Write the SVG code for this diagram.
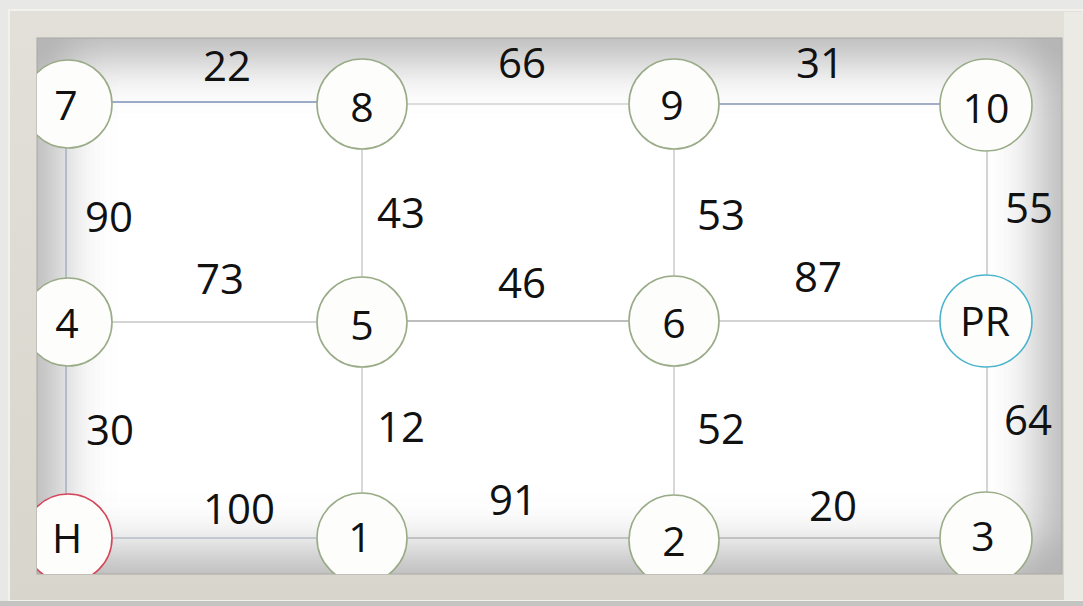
<svg xmlns="http://www.w3.org/2000/svg" width="1083" height="606" viewBox="0 0 1083 606">
<style>
.lbl{font-family:"Open Sans","Liberation Sans",sans-serif;font-size:42px;fill:#111}
.nt{font-family:"Open Sans","Liberation Sans",sans-serif;font-size:41px;fill:#111;text-anchor:middle;dominant-baseline:central}
.nd{fill:#fdfefb;stroke:#9aab88;stroke-width:1.6}
.e{stroke-width:1.4;fill:none}
</style>
<defs>
<clipPath id="inner"><rect x="37" y="38" width="1025" height="536"/></clipPath>
<filter id="blur" x="-10%" y="-10%" width="120%" height="120%"><feGaussianBlur stdDeviation="28"/></filter>
<linearGradient id="frame" x1="0" y1="0" x2="0" y2="1"><stop offset="0" stop-color="#e2e0d9"/><stop offset="1" stop-color="#d8d5cc"/></linearGradient>
</defs>
<rect x="0" y="0" width="1083" height="606" fill="#e8e8e6"/>
<rect x="9" y="10" width="1074" height="591" fill="url(#frame)" stroke="#f2f1ec" stroke-width="2"/>
<rect x="1064" y="12" width="19" height="588" fill="#ebeae4"/>
<rect x="0" y="601" width="1083" height="5" fill="#c4c4c2"/>
<g id="background">
<rect x="37" y="38" width="1025" height="536" fill="#ffffff"/>
<g clip-path="url(#inner)">
<rect x="27" y="28" width="1045" height="556" fill="none" stroke="#7a7a7a" stroke-opacity="0.75" stroke-width="50" filter="url(#blur)"/>
</g>
<rect x="37" y="38" width="1025" height="536" fill="none" stroke="#a8a8a6" stroke-width="1"/>
</g>
<g id="connectors" clip-path="url(#inner)">
<line class="e" x1="66" y1="102" x2="362" y2="102" stroke="#7d90b6"/>
<line class="e" x1="362" y1="104" x2="674" y2="104" stroke="#d2d2d2"/>
<line class="e" x1="674" y1="104" x2="986" y2="104" stroke="#8494b6"/>
<line class="e" x1="66" y1="322" x2="362" y2="322" stroke="#c6c6c6"/>
<line class="e" x1="362" y1="321" x2="674" y2="321" stroke="#a8a8a8"/>
<line class="e" x1="674" y1="321" x2="986" y2="321" stroke="#c4c4c4"/>
<line class="e" x1="66" y1="538" x2="362" y2="538" stroke="#b6bec8"/>
<line class="e" x1="362" y1="538" x2="674" y2="538" stroke="#b4b4b4"/>
<line class="e" x1="674" y1="538" x2="986" y2="538" stroke="#b4b4b4"/>
<line class="e" x1="66" y1="104" x2="66" y2="538" stroke="#9eacc2"/>
<line class="e" x1="362" y1="104" x2="362" y2="538" stroke="#c8c8c8"/>
<line class="e" x1="674" y1="104" x2="674" y2="538" stroke="#c8c8c8"/>
<line class="e" x1="987" y1="104" x2="987" y2="538" stroke="#c2c2c2"/>
</g>
<g id="edge-labels">
<text class="lbl" x="203" y="81">22</text>
<text class="lbl" x="498" y="78">66</text>
<text class="lbl" x="796" y="78">31</text>
<text class="lbl" x="85" y="232">90</text>
<text class="lbl" x="377" y="228">43</text>
<text class="lbl" x="697" y="230">53</text>
<text class="lbl" x="1005" y="223">55</text>
<text class="lbl" x="196" y="294">73</text>
<text class="lbl" x="498" y="298">46</text>
<text class="lbl" x="794" y="292">87</text>
<text class="lbl" x="86" y="445">30</text>
<text class="lbl" x="377" y="442">12</text>
<text class="lbl" x="697" y="444">52</text>
<text class="lbl" x="1004" y="435">64</text>
<text class="lbl" x="203" y="524">100</text>
<text class="lbl" x="489" y="515">91</text>
<text class="lbl" x="809" y="521">20</text>
</g>
<g clip-path="url(#inner)">
<g id="n7"><circle class="nd" cx="68" cy="104" r="44"/><text class="nt" x="66" y="104">7</text></g>
<g id="n8"><circle class="nd" cx="362" cy="104" r="45"/><text class="nt" x="362" y="106">8</text></g>
<g id="n9"><circle class="nd" cx="674" cy="104" r="45"/><text class="nt" x="672" y="104">9</text></g>
<g id="n10"><circle class="nd" cx="986" cy="105" r="46"/><text class="nt" x="986" y="107">10</text></g>
<g id="n4"><circle class="nd" cx="68" cy="322" r="44"/><text class="nt" x="67" y="322">4</text></g>
<g id="n5"><circle class="nd" cx="362" cy="322" r="45"/><text class="nt" x="362" y="324">5</text></g>
<g id="n6"><circle class="nd" cx="674" cy="321" r="45"/><text class="nt" x="674" y="322">6</text></g>
<g id="nPR"><circle class="nd" cx="986" cy="321" r="46" style="stroke:#4ab4cc"/><text class="nt" x="985" y="320">PR</text></g>
<g id="nH"><circle class="nd" cx="68" cy="538" r="44" style="stroke:#d4465a"/><text class="nt" x="67" y="537">H</text></g>
<g id="n1"><circle class="nd" cx="362" cy="538" r="45"/><text class="nt" x="360" y="536">1</text></g>
<g id="n2"><circle class="nd" cx="674" cy="540" r="45"/><text class="nt" x="674" y="540">2</text></g>
<g id="n3"><circle class="nd" cx="986" cy="538" r="46"/><text class="nt" x="983" y="535">3</text></g>
</g>
</svg>
